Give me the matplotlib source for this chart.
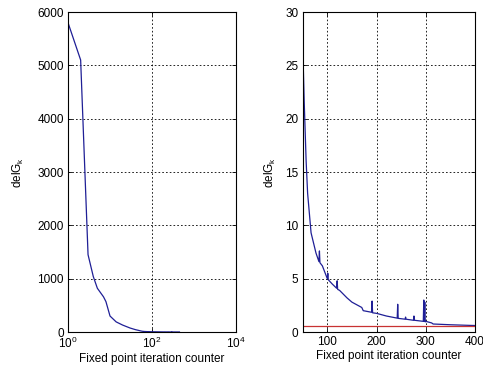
import matplotlib.pyplot as plt
from matplotlib.ticker import FixedLocator, NullLocator

plt.rcParams['font.family'] = ['Liberation Sans', 'DejaVu Sans']
plt.rcParams['mathtext.default'] = 'regular'

# delG_k versus fixed point iteration counter
iters = [1, 2, 3, 4, 5, 7, 8, 10, 14, 20, 30, 40, 50, 53, 57, 60, 67, 77, 80,
         83, 84, 85, 90, 100, 101, 102, 110, 119, 120, 121, 125, 140, 150, 170,
         173, 190, 191, 192, 200, 220, 242, 243, 244, 258, 259, 260, 275, 276,
         277, 295, 296, 297, 298, 299, 300, 312, 315, 350, 390, 450]
delG = [5800, 5100, 1450, 1040, 820, 660, 570, 300, 190, 130, 75, 45, 27, 21.7,
        16, 13, 9.3, 7.4, 7.0, 6.6, 7.6, 6.5, 6.2, 5.0, 5.5, 4.9, 4.5, 4.1, 4.8,
        4.0, 3.9, 3.2, 2.8, 2.3, 2.0, 1.85, 2.9, 1.8, 1.75, 1.5, 1.3, 2.6, 1.28,
        1.2, 1.4, 1.2, 1.1, 1.5, 1.1, 1.0, 3.0, 1.0, 2.8, 0.95, 1.0, 0.85, 0.75,
        0.68, 0.62, 0.55]
threshold = 0.6

left_xticks = [1, 100, 10000]
left_xlabels = ['$10^{0}$', '$10^{2}$', '$10^{4}$']
left_yticks = [0, 1000, 2000, 3000, 4000, 5000, 6000]
right_xticks = [100, 200, 300, 400]
right_yticks = [0, 5, 10, 15, 20, 25, 30]

line_color = '#1f1f96'
fig = plt.figure(figsize=(4.83, 3.71), dpi=100)
ax1 = fig.add_axes([0.1408, 0.1051, 0.3478, 0.8625])
ax2 = fig.add_axes([0.6267, 0.1051, 0.3567, 0.8625])

ax1.plot(iters, delG, color=line_color, lw=0.9)
ax1.set_xscale('log')
ax1.set_xlim(1, 10000)
ax1.set_ylim(0, 6000)
ax1.xaxis.set_major_locator(FixedLocator(left_xticks))
ax1.set_xticklabels(left_xlabels)
ax1.xaxis.set_minor_locator(NullLocator())
ax1.set_yticks(left_yticks)

ax2.plot(iters, delG, color=line_color, lw=0.9)
ax2.axhline(threshold, color='#c83232', lw=0.9)
ax2.set_xlim(50, 400)
ax2.set_ylim(0, 30)
ax2.set_xticks(right_xticks)
ax2.set_yticks(right_yticks)

for ax, pad in ((ax1, 8), (ax2, 5)):
    ax.grid(True, color='black', linestyle=(0, (2, 2.5)), lw=0.6)
    ax.tick_params(direction='in', length=3, width=0.6, labelsize=8.5,
                   top=True, right=True, pad=3)
    for s in ax.spines.values():
        s.set_linewidth(0.8)
    ax.set_xlabel('Fixed point iteration counter', fontsize=8.5, labelpad=1)
    ax.set_ylabel('delG$_k$', fontsize=8.5, labelpad=pad)

fig.savefig('out.png', dpi=100)
